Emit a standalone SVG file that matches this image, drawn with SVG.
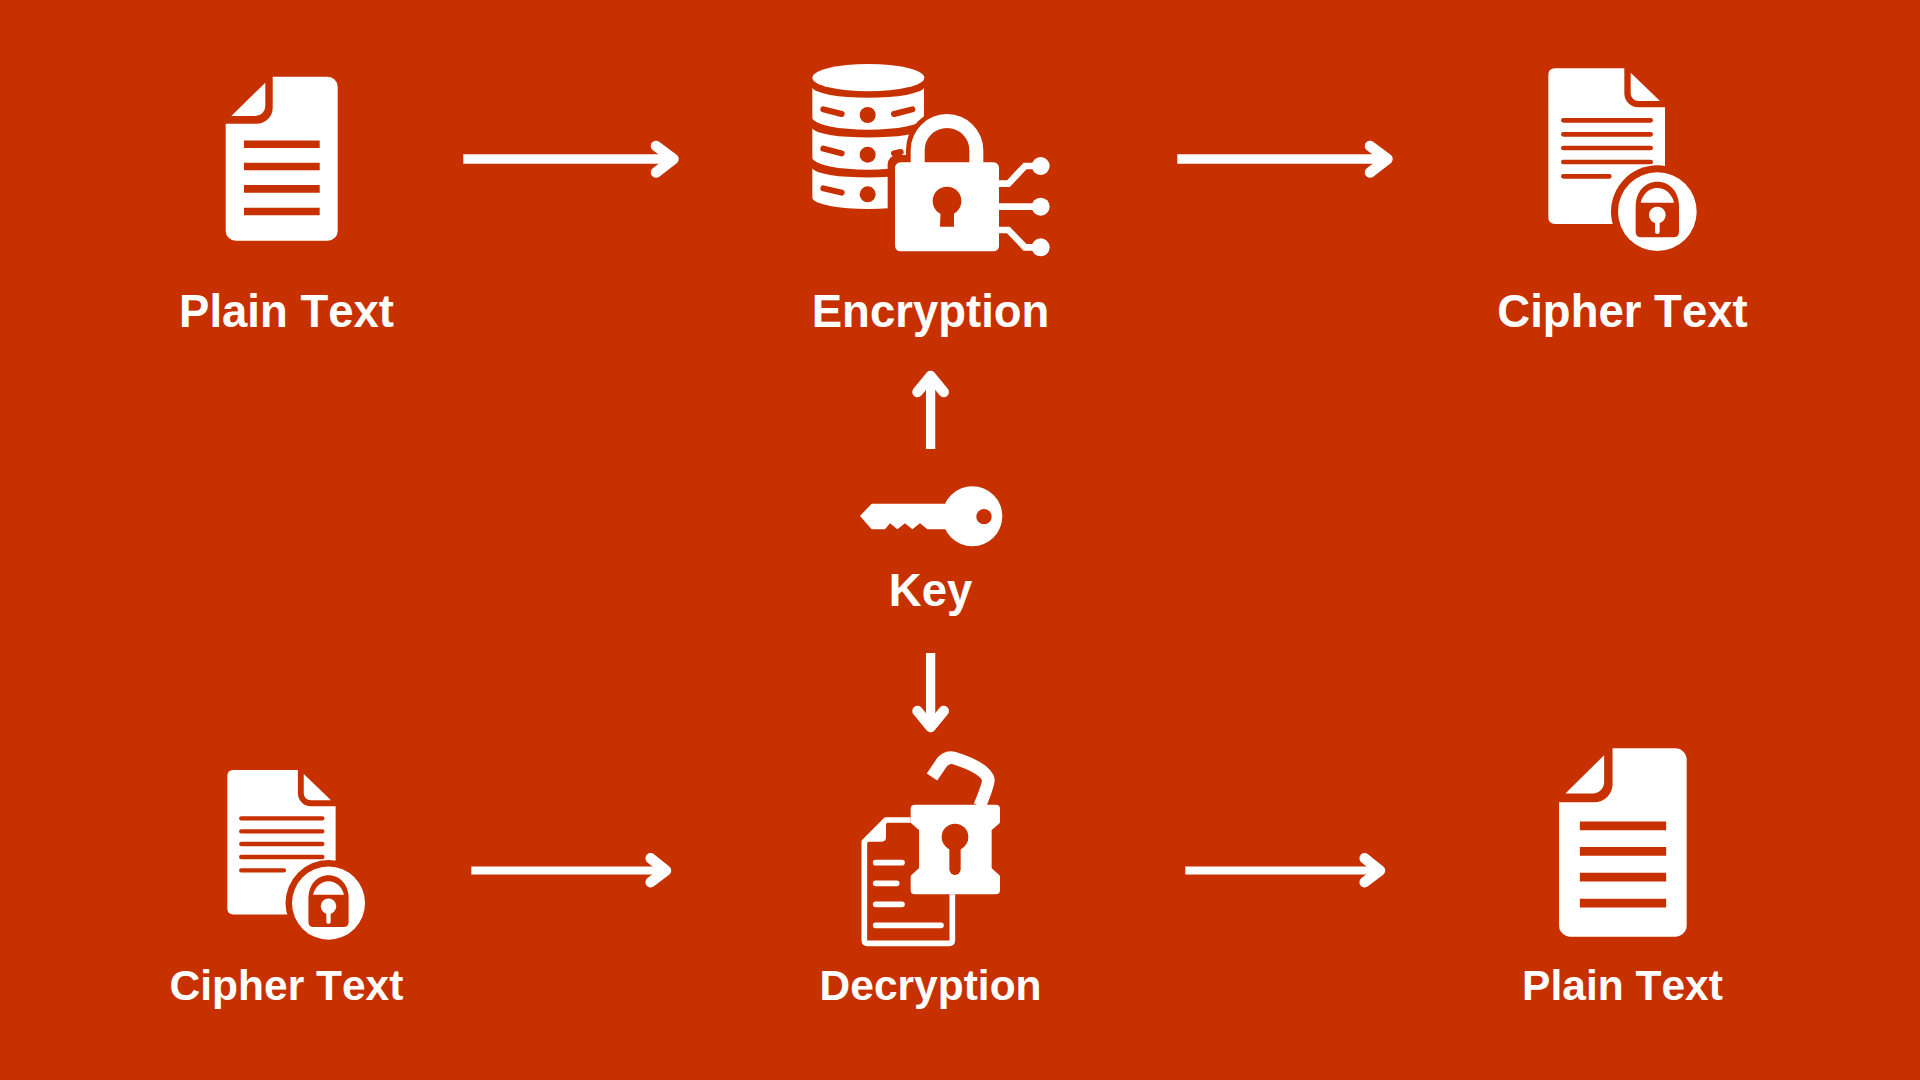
<svg xmlns="http://www.w3.org/2000/svg" width="1920" height="1080" viewBox="0 0 1920 1080">
<style>
.w{fill:#fff}.b{fill:#c73100}
.lb{font-family:"Liberation Sans",Arial,sans-serif;font-weight:700;fill:#fff;text-anchor:middle;font-kerning:none}
.a{fill:none;stroke:#fff;stroke-width:9.3}
.a2{fill:none;stroke:#fff;stroke-width:7.800}
.h{fill:none;stroke:#fff;stroke-width:10.500;stroke-linecap:round;stroke-linejoin:round}
.bl{stroke:#c73100;fill:none}
.wl{stroke:#fff;fill:none}
.r{stroke-linecap:round;stroke-linejoin:round}
</style>
<defs>
<g id="doc">
<path class="w" d="M47,0H102a10,10 0 0 1 10,10V154a10,10 0 0 1 -10,10H10a10,10 0 0 1 -10,-10V47H31A16,16 0 0 0 47,31Z"/>
<path class="w" d="M5.600,39.300L39.600,6V29A10,10 0 0 1 29.600,39.300Z"/>
<path class="b" d="M18.300,63.700H94V71.300H18.300ZM18.300,86H94V93.600H18.300ZM18.300,108.300H94V116H18.300ZM18.300,131H94V138.600H18.300Z"/>
</g>
<g id="cipher">
<path class="w" d="M105,55H313V130A42,42 0 0 0 355,172H435V522H105Q85,522 85,502V75Q85,55 105,55Z"/>
<path class="w" d="M332,68L420,153H355A23,23 0 0 1 332,130Z"/>
<path class="bl r" stroke-width="14" d="M130,211H392M130,253H392M130,294H392M130,336H392M130,379H268"/>
<circle class="b" cx="412" cy="485" r="139"/>
<circle class="w" cx="412" cy="485" r="118"/>
<path class="b" d="M347,545V470C347,425 375,395 412,395C449,395 477,425 477,470V545Q477,562 460,562H364Q347,562 347,545Z"/>
<path class="w" d="M362,458C368,432 388,414 412,414C436,414 456,432 462,458Z"/>
<circle class="w" cx="412" cy="495" r="25"/>
<path class="wl r" stroke-width="14" d="M412,510V545"/>
</g>
</defs>
<rect width="1920" height="1080" class="b"/>
<g id="connectors">
<g id="c1"><path class="a" d="M463.300,159H672"/><path class="h" d="M656,146L673.500,159L656,172.500"/></g>
<g id="c2"><path class="a" d="M1177.300,159H1386"/><path class="h" d="M1370,146L1387.500,159L1370,172.500"/></g>
<g id="c3"><path class="a" d="M930.600,449V378"/><path class="h" d="M917.500,392L930.600,376L943.700,392"/></g>
<g id="c4"><path class="a" d="M930.600,653V725"/><path class="h" d="M917.500,711L930.600,727L943.700,711"/></g>
<g id="c5"><path class="a2" d="M471.300,870.500H664"/><path class="h" d="M650.700,858.300L666,870.500L650.700,882.200"/></g>
<g id="c6"><path class="a2" d="M1185.300,870.500H1378"/><path class="h" d="M1364.700,858.300L1380,870.500L1364.700,882.200"/></g>
</g>
<g id="plain-top">
<use href="#doc" transform="translate(225.700,76.700)"/>
<text class="lb" x="286.500" y="327" font-size="45.500">Plain Text</text>
</g>
<g id="encryption">
<g transform="translate(780,40) scale(.33333)">
<ellipse class="w" cx="265" cy="113" rx="168" ry="41"/>
<path class="w" d="M97,143A168,33 0 0 0 432,143V235A168,37 0 0 1 97,235Z"/>
<path class="w" d="M97,265A168,30 0 0 0 432,265V355A168,37 0 0 1 97,355Z"/>
<path class="w" d="M97,385A168,30 0 0 0 432,385V475A168,35 0 0 1 97,475Z"/>
<g class="b"><circle cx="263" cy="225" r="24"/><circle cx="263" cy="344" r="24"/><circle cx="263" cy="463" r="24"/></g>
<path class="bl r" stroke-width="18" d="M130,208L185,222M342,222L397,208M130,326L185,340M342,340L362,336M130,445L185,458"/>
<rect class="b" x="323" y="345" width="356" height="310" rx="28"/>
<rect class="b" x="420" y="490" width="300" height="200"/>
<path class="bl" stroke-width="70" d="M413,370V331A88,88 0 0 1 589,331V370"/>
<path class="wl" stroke-width="42" d="M413,370V331A88,88 0 0 1 589,331V370"/>
<rect class="w" x="345" y="367" width="312" height="267" rx="16"/>
<circle class="b" cx="501" cy="483" r="43"/>
<path class="b" d="M482,505H522V560H480Z"/>
<path class="wl" stroke-width="20" d="M655,431H685L735,378H780M655,500H780M655,570H685L735,622H780"/>
<circle class="w" cx="782" cy="378" r="27"/><circle class="w" cx="782" cy="500" r="27"/><circle class="w" cx="782" cy="622" r="27"/>
</g>
<text class="lb" x="930.600" y="327" font-size="45.500">Encryption</text>
</g>
<g id="cipher-top">
<use href="#cipher" transform="translate(1520,50) scale(.33333)"/>
<text class="lb" x="1622.500" y="327" font-size="45.500">Cipher Text</text>
</g>
<g id="key">
<g transform="translate(840,360) scale(.33333)">
<circle class="w" cx="397" cy="469" r="90"/>
<path class="w" d="M95,431H340V508H262L240,490L217,508L195,490L172,508L150,490L135,508H95L60,468Z"/>
<circle class="b" cx="432" cy="470" r="23"/>
</g>
<text class="lb" x="930.600" y="606" font-size="45.500">Key</text>
</g>
<g id="cipher-bottom">
<use href="#cipher" transform="translate(201,753) scale(.3095)"/>
<text class="lb" x="286.500" y="1000" font-size="42.500">Cipher Text</text>
</g>
<g id="decryption">
<g transform="translate(820,730) scale(.33333)">
<path class="wl" stroke-width="38" stroke-linejoin="round" d="M336,141L365,98Q380,78 402,84Q500,115 505,150Q505,165 479,228"/>
<path class="wl" stroke-width="17" stroke-linejoin="round" d="M272,270H198L133,335V630Q133,640 143,640H387Q397,640 397,630V493"/>
<path class="w" d="M198,270L133,335H185Q198,335 198,322Z"/>
<path class="wl r" stroke-width="17" d="M167,398H246M167,460H230M167,523H246M167,586H363"/>
<path class="w" stroke="#fff" stroke-width="14" stroke-linejoin="round" d="M286,231H526C533,231 533,231 533,238V275L508,297V418L533,440V479C533,486 533,486 526,486H286C279,486 279,486 279,479V440L304,418V297L279,275V238C279,231 279,231 286,231Z"/>
<circle class="b" cx="405" cy="321" r="40"/>
<path class="bl r" stroke-width="34" d="M405,340V418"/>
</g>
<text class="lb" x="930.600" y="1000" font-size="42.500">Decryption</text>
</g>
<g id="plain-bottom">
<use href="#doc" transform="translate(1559,748.300) scale(1.14,1.149)"/>
<text class="lb" x="1622.500" y="1000" font-size="42.500">Plain Text</text>
</g>
</svg>
